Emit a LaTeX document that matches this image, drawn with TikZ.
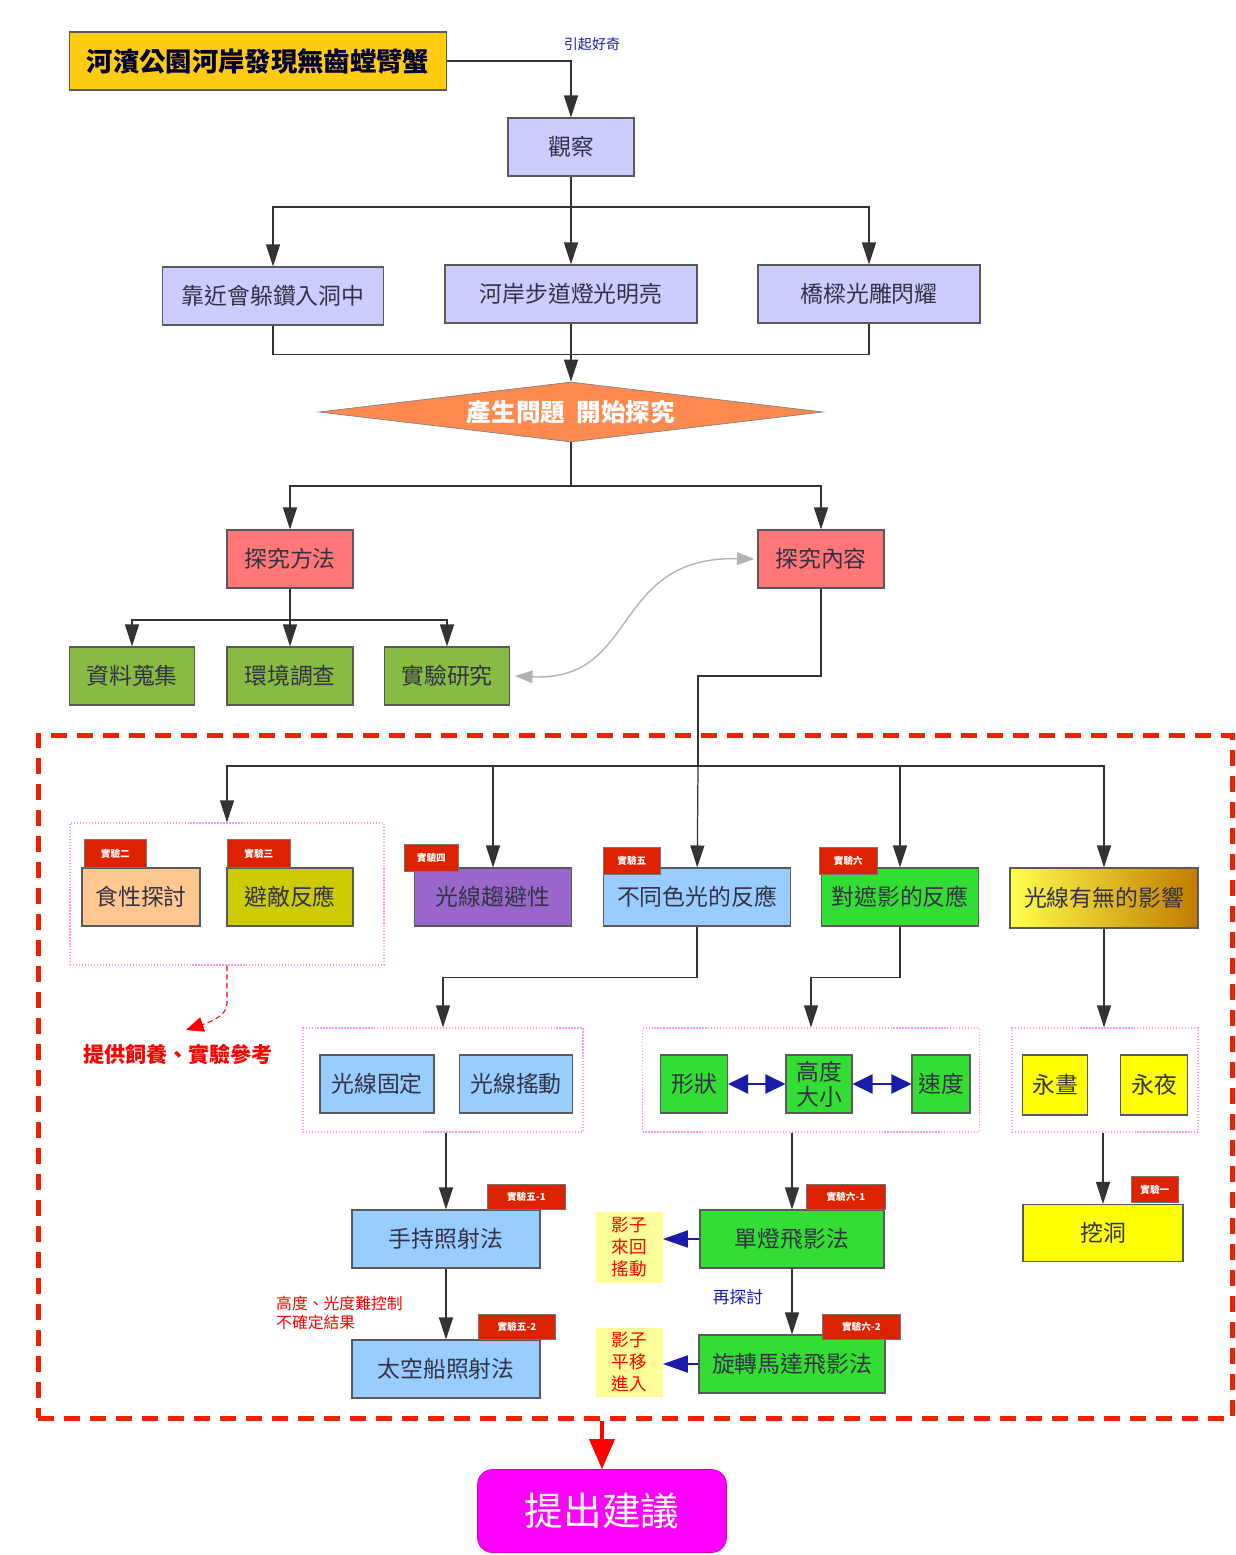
\documentclass[tikz,border=0pt]{standalone}
\usepackage{fontspec}
\setmainfont{Noto Sans CJK TC}
\usepackage{xcolor}
\usetikzlibrary{arrows.meta,positioning,shapes.geometric}

\definecolor{titlegold}{HTML}{FFCC11}
\definecolor{lav}{HTML}{CCCCFF}
\definecolor{dorange}{HTML}{FF8A50}
\definecolor{salmon}{HTML}{FF7777}
\definecolor{leaf}{HTML}{88BB44}
\definecolor{peach}{HTML}{FFC890}
\definecolor{olivey}{HTML}{CCCC00}
\definecolor{violet}{HTML}{9966CC}
\definecolor{sky}{HTML}{99CCFF}
\definecolor{lime}{HTML}{33DD33}
\definecolor{lemon}{HTML}{FFFF00}
\definecolor{notey}{HTML}{FFFF99}
\definecolor{tagred}{HTML}{DD2200}
\definecolor{zonered}{HTML}{EE2200}
\definecolor{grppink}{HTML}{FF99EE}
\definecolor{navy}{HTML}{1A1AAA}
\definecolor{boxtxt}{HTML}{333344}
\definecolor{magen}{HTML}{FF00FF}

\begin{document}
\begin{tikzpicture}[x=0.2mm, y=-0.2mm,
  box/.style={draw=black!65, line width=0.6pt, inner sep=0pt, align=center, text=boxtxt, font=\fontsize{13}{15}\selectfont},
  wh/.style 2 args={minimum width=#1*0.2mm, minimum height=#2*0.2mm},
  tag/.style={fill=tagred, draw=black!55, line width=0.4pt, text=white, inner sep=0pt, anchor=south west, font=\bfseries\fontsize{5.5}{6}\selectfont},
  grp/.style={draw=grppink, densely dotted, line width=0.7pt, inner sep=0pt},
  line/.style={draw=black!80, line width=0.7pt},
  arr/.style={line, -{Triangle[length=4.4mm,width=2.8mm]}},
  dbl/.style={draw=navy, line width=1.2pt, {Triangle[length=4mm,width=3.8mm]}-{Triangle[length=4mm,width=3.8mm]}},
  navyarr/.style={draw=navy, line width=1pt, -{Triangle[length=5mm,width=3.4mm]}},
  note/.style={fill=notey, inner sep=0pt, align=center, text=red, font=\fontsize{10}{12.5}\selectfont}
]
\useasboundingbox (0,0) rectangle (1235,1555);

% top
\node[box, wh={377}{58}, fill=titlegold, text=black!80!blue, font=\bfseries\fontsize{15}{18}\selectfont] (title) at (258,61) {河濱公園河岸發現無齒螳臂蟹};
\node[box, wh={126}{58}, fill=lav] (obs) at (571,147) {觀察};
\node[text=navy, font=\fontsize{8}{10}\selectfont] (curious) at (592,44) {引起好奇};
\node[box, wh={221}{58}, fill=lav] (q1) at (273,296) {靠近會躲鑽入洞中};
\node[box, wh={252}{58}, fill=lav] (q2) at (571,294) {河岸步道燈光明亮};
\node[box, wh={222}{58}, fill=lav] (q3) at (869,294) {橋樑光雕閃耀};
\node[diamond, draw=black!50, fill=dorange, aspect=8.4, inner sep=0pt, wh={504}{60}, text=white, font=\bfseries\fontsize{14}{16}\selectfont] (dia) at (571,412) {產生問題\ \ 開始探究};

\draw[arr] (title.east) -| (obs.north);
\coordinate (j1) at (571,207);
\draw[arr] (obs) -- (q2);
\draw[arr] (j1) -| (q1);
\draw[arr] (j1) -| (q3);
\draw[line] (q1.south) -- ++(0,29) -| (q3.south);
\draw[arr] (q2) -- (dia);

% methods
\node[box, wh={126}{58}, fill=salmon] (meth) at (290,559) {探究方法};
\node[box, wh={126}{58}, fill=salmon] (cont) at (821,559) {探究內容};
\node[box, wh={125}{58}, fill=leaf] (g1) at (132,676) {資料蒐集};
\node[box, wh={126}{58}, fill=leaf] (g2) at (290,676) {環境調查};
\node[box, wh={125}{58}, fill=leaf] (g3) at (447,676) {實驗研究};

\coordinate (j2) at (571,486);
\draw[line] (dia.south) -- (j2);
\draw[arr] (j2) -| (meth);
\draw[arr] (j2) -| (cont);
\coordinate (j3) at (290,620);
\draw[arr] (meth) -- (g2);
\draw[arr] (j3) -| (g1);
\draw[arr] (j3) -| (g3);
\draw[draw=black!30, line width=0.8pt, {Triangle[length=3.5mm,width=2.5mm]}-{Triangle[length=3.5mm,width=2.5mm]}]
  ([xshift=1mm]g3.east) .. controls (640,682) and (610,556) .. ([xshift=-0.6mm]cont.west);

% experiments zone
\node[draw=zonered, line width=1mm, dash pattern=on 3.2mm off 2mm, inner sep=0pt, wh={1194}{683}] (zone) at (635,1076.5) {};

\node[grp, wh={314}{142}] (grp1) at (227,894) {};
\node[box, wh={118}{58}, fill=peach] (e2) at (141,897) {食性探討};
\node[tag, wh={62}{28}] (t2) at (84,868) {實驗二};
\node[box, wh={126}{58}, fill=olivey] (e3) at (290,897) {避敵反應};
\node[tag, wh={63}{28}] (t3) at (227,868) {實驗三};
\node[box, wh={157}{58}, fill=violet] (e4) at (493,897) {光線趨避性};
\node[tag, wh={54}{27}] (t4) at (404,872) {實驗四};
\node[box, wh={187}{58}, fill=sky] (e5) at (697,897) {不同色光的反應};
\node[tag, wh={57}{27}] (t5) at (603,875) {實驗五};
\node[box, wh={157}{58}, fill=lime] (e6) at (900,897) {對遮影的反應};
\node[tag, wh={58}{27}] (t6) at (819,875) {實驗六};
\node[box, wh={188}{60}, left color=lemon!70, right color=black!30!orange!80!yellow] (e7) at (1104,898) {光線有無的影響};

\coordinate (k1) at (698,676);
\coordinate (k2) at (698,766);
\draw[line] (cont) |- (k1) -- (k2);
\draw[arr] (k2) -- (e5);
\draw[arr] (k2) -| (grp1);
\draw[arr] (k2) -| (e4);
\draw[arr] (k2) -| (e6);
\draw[arr] (k2) -| (e7);

\node[text=red, font=\bfseries\fontsize{12}{14}\selectfont] (ref) at (178,1054) {提供飼養、實驗參考};
\coordinate (rtip) at (186,1030);
\draw[draw=red, densely dashed, line width=0.6pt, -{Triangle[length=3.5mm,width=3mm]}]
  (grp1.south) -- ++(0,38) .. controls +(0,14) and +(18,-6) .. (rtip);

% sub groups
\node[grp, wh={280}{104}] (grp2) at (443,1080) {};
\node[box, wh={114}{58}, fill=sky] (b1) at (377,1084) {光線固定};
\node[box, wh={113}{58}, fill=sky] (b2) at (516,1084) {光線搖動};
\node[grp, wh={337}{104}] (grp3) at (811,1080) {};
\node[box, wh={67}{58}, fill=lime] (s1) at (694,1084) {形狀};
\node[box, wh={66}{58}, fill=lime, font=\fontsize{13}{14}\selectfont] (s2) at (819,1084) {高度\\大小};
\node[box, wh={58}{58}, fill=lime] (s3) at (941,1084) {速度};
\node[grp, wh={186}{104}] (grp4) at (1105,1080) {};
\node[box, wh={65}{60}, fill=lemon] (y1) at (1055,1085) {永晝};
\node[box, wh={67}{60}, fill=lemon] (y2) at (1154,1085) {永夜};

\draw[arr] (e5.south) -- ++(0,51) -| (grp2.north);
\draw[arr] (e6.south) -- ++(0,51) -| (grp3.north);
\draw[arr] (e7) -- (e7 |- grp4.north);
\draw[dbl] (s1) -- (s2);
\draw[dbl] (s2) -- (s3);

% methods of experiments
\node[box, wh={188}{58}, fill=sky] (h1) at (446,1239) {手持照射法};
\node[tag, wh={78}{25}] (t51) at (487,1210) {實驗五-1};
\node[box, wh={188}{58}, fill=sky] (h2) at (446,1369) {太空船照射法};
\node[tag, wh={77}{25}] (t52) at (478,1340) {實驗五-2};
\node[text=red, align=left, anchor=west, font=\fontsize{9}{11}\selectfont] (hard) at (270,1313) {高度、光度難控制\\不確定結果};

\node[box, wh={184}{58}, fill=lime] (f1) at (792,1239) {單燈飛影法};
\node[tag, wh={79}{25}] (t61) at (806,1210) {實驗六-1};
\node[box, wh={186}{58}, fill=lime] (f2) at (792,1364) {旋轉馬達飛影法};
\node[tag, wh={78}{25}] (t62) at (822,1340) {實驗六-2};
\node[text=navy, font=\fontsize{9.5}{11}\selectfont] (again) at (738,1297) {再探討};
\node[note, wh={67}{71}] (n1) at (629,1247) {影子\\來回\\搖動};
\node[note, wh={67}{69}] (n2) at (629,1362) {影子\\平移\\進入};

\node[box, wh={160}{57}, fill=lemon] (dig) at (1103,1233) {挖洞};
\node[tag, wh={47}{26}] (t1) at (1131,1203) {實驗一};

\draw[arr] (h1 |- grp2.south) -- (h1);
\draw[arr] (h1) -- (h2);
\draw[arr] (f1 |- grp3.south) -- (f1);
\draw[arr] (f1) -- (f2);
\draw[arr] (dig |- grp4.south) -- (dig);
\draw[navyarr] (f1.west) -- (n1.east |- f1.west);
\draw[navyarr] (f2.west) -- (n2.east |- f2.west);

% result
\node[draw=magen!80!black, fill=magen, rounded corners=3mm, inner sep=0pt, wh={249}{83}, text=white, font=\fontsize{22}{26}\selectfont] (final) at (602,1511) {提出建議};
\draw[draw=red, line width=2pt, -{Triangle[length=6mm,width=5mm]}] (zone.south -| final) -- (final);
\end{tikzpicture}
\end{document}
